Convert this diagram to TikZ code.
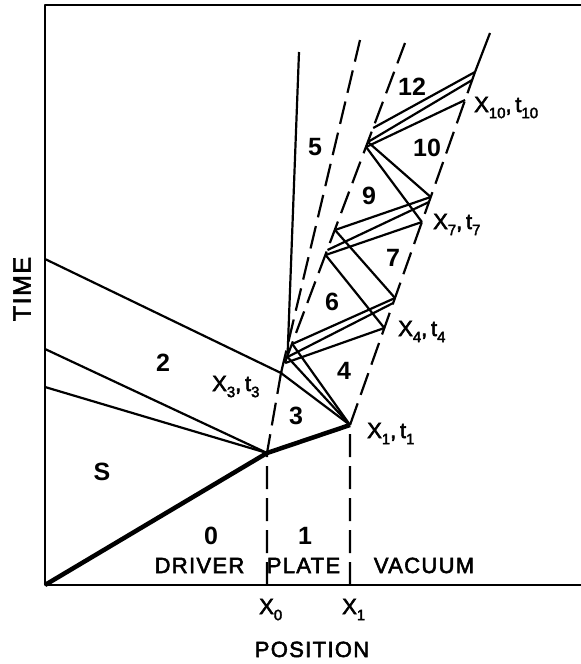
\documentclass[tikz,border=0pt]{standalone}
\usepackage{fontspec}
\setmainfont[FakeBold=2.5]{Liberation Sans}
\newfontfamily\spacedfont[LetterSpace=6, FakeBold=2.5]{Liberation Sans}
\newfontfamily\numfont{Liberation Sans}
\newcommand{\sbs}[1]{\raisebox{-0.28em}{\fontsize{15}{15}\selectfont #1}}
\newcommand{\xtlab}[1]{X\sbs{#1},\,t\sbs{#1}}
\begin{document}
\begin{tikzpicture}[x=1pt,y=-1pt,
  wl/.style={line width=2.2pt, line join=round},
  tk/.style={line width=4.5pt, line join=round},
  dl/.style={line width=2.2pt, dash pattern=on 23pt off 9pt},
  rg/.style={font=\numfont\fontsize{25}{25}\selectfont\bfseries, inner sep=0pt},
  tx/.style={font=\spacedfont\fontsize{22}{22}\selectfont, inner sep=0pt, anchor=base},
  pl/.style={font=\fontsize{22}{22}\selectfont, inner sep=0pt, anchor=base west}]
\useasboundingbox (0,0) rectangle (581,664);
% frame
\coordinate (TR) at (581,5);
\coordinate (TL) at (45,5);
\coordinate (O) at (45,585);
\coordinate (BR) at (581,585);
\draw[wl] (TR) -- (TL) -- (O) -- (BR);
% key points
\coordinate (P0) at (267,453);
\coordinate (P1) at (350,425);
\coordinate (B0) at (267,585);
\coordinate (B1) at (350,585);
\coordinate (X3) at (281,373);
\coordinate (A1) at (45,259);
\coordinate (A2) at (45,349);
\coordinate (A3) at (45,387);
% plate left surface points
\coordinate (L1a) at (292.3,344);
\coordinate (L1b) at (287.5,357);
\coordinate (L1c) at (285.2,363);
\coordinate (L2a) at (335,230);
\coordinate (L2b) at (327.5,250);
\coordinate (L2c) at (325.6,255);
\coordinate (L3a) at (373.2,128);
\coordinate (L3b) at (367.9,142);
\coordinate (L3c) at (366.1,147);
\coordinate (Ltop) at (405,43);
% free surface points
\coordinate (R4a) at (395,298);
\coordinate (R4b) at (393.2,303);
\coordinate (R4c) at (384.3,328);
\coordinate (R7a) at (430.7,197);
\coordinate (R7b) at (429,202);
\coordinate (R7c) at (421.9,222);
\coordinate (R10a) at (475,72);
\coordinate (R10b) at (472.2,80);
\coordinate (R10c) at (465.1,100);
\coordinate (Rtop) at (490,33);
% other lines
\coordinate (DAtop) at (360,40);
\coordinate (S5t) at (299,52);
% thick shock path
\draw[tk] (O) -- (P0) -- (P1);
% dashed interfaces
\draw[dl] (B0) -- (P0) -- (X3) -- (Ltop);
\draw[dl] (B1) -- (P1) -- (R10a);
\draw[wl] (R10a) -- (Rtop);
\draw[dl] (X3) -- (DAtop);
\draw[wl] (L1b) -- (S5t);
% waves in the driver
\draw[wl] (A1) -- (X3) -- (P1);
\draw[wl] (A2) -- (P0);
\draw[wl] (A3) -- (P0);
% reverberations in the plate
\draw[wl] (P1) -- (L1b);
\draw[wl] (P1) -- (L1a);
\draw[wl] (L1a) -- (R4a);
\draw[wl] (L1b) -- (R4b);
\draw[wl] (L1c) -- (R4c);
\draw[wl] (R4a) -- (L2a);
\draw[wl] (R4c) -- (L2c);
\draw[wl] (L2a) -- (R7a);
\draw[wl] (L2b) -- (R7b);
\draw[wl] (L2c) -- (R7c);
\draw[wl] (R7a) -- (L3b);
\draw[wl] (R7c) -- (L3c);
\draw[wl] (L3a) -- (R10a);
\draw[wl] (L3b) -- (R10b);
\draw[wl] (L3c) -- (R10c);
% region numbers
\node[rg] (rS) at (102,472) {S};
\node[rg] (r0) at (211,536) {0};
\node[rg] (r1) at (305,536) {1};
\node[rg] (r2) at (163,363) {2};
\node[rg] (r3) at (296,416) {3};
\node[rg] (r4) at (344,371) {4};
\node[rg] (r5) at (315,147) {5};
\node[rg] (r6) at (332,302) {6};
\node[rg] (r7) at (393,258) {7};
\node[rg] (r9) at (369,196) {9};
\node[rg] (r10) at (427,148) {10};
\node[rg] (r12) at (412,87) {12};
% point labels
\node[pl] (lx1) at (367,438) {\xtlab{1}};
\node[pl] (lx3) at (212,391) {\xtlab{3}};
\node[pl] (lx4) at (398,336) {\xtlab{4}};
\node[pl] (lx7) at (433,229) {\xtlab{7}};
\node[pl] (lx10) at (474,112) {\xtlab{10}};
% axis texts
\node[tx] (tdriver) at (199.5,573) {DRIVER};
\node[tx] (tplate) at (303.5,573) {PLATE};
\node[tx] (tvac) at (424,573) {VACUUM};
\node[pl] (tx0) at (259,614) {X\sbs{0}};
\node[pl] (tx1) at (342,614) {X\sbs{1}};
\node[tx] (tpos) at (312,657) {POSITION};
\node[font=\spacedfont\fontsize{25}{25}\selectfont, inner sep=0pt, rotate=90] (ttime) at (22,289) {TIME};
\end{tikzpicture}
\end{document}
